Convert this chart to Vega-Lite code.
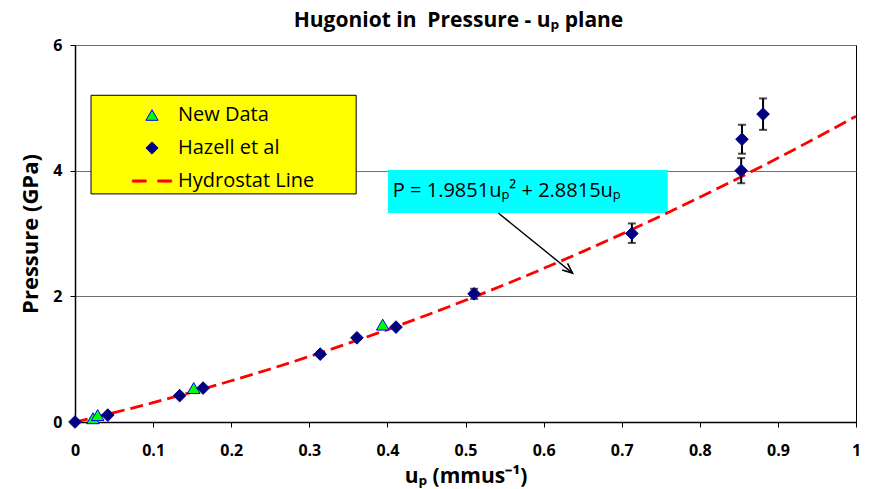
{
  "$schema": "https://vega.github.io/schema/vega-lite/v6.json",
  "width": 781,
  "height": 377,
  "autosize": {"type": "none"},
  "padding": {"left": 75, "top": 45, "right": 19, "bottom": 67},
  "background": "white",
  "title": {"text": "Hugoniot in\u00a0 Pressure - uₚ plane", "fontSize": 21, "font": "Open Sans", "fontWeight": "bold", "color": "#000", "anchor": "middle", "offset": 6, "dx": -7},
  "datasets": {
    "points": [
      {"series": "New Data", "u": 0.023, "p": 0.06},
      {"series": "New Data", "u": 0.029, "p": 0.11},
      {"series": "New Data", "u": 0.152, "p": 0.54},
      {"series": "New Data", "u": 0.394, "p": 1.55},
      {"series": "Hazell et al", "u": 0.0, "p": 0.0},
      {"series": "Hazell et al", "u": 0.042, "p": 0.11},
      {"series": "Hazell et al", "u": 0.134, "p": 0.42},
      {"series": "Hazell et al", "u": 0.164, "p": 0.54},
      {"series": "Hazell et al", "u": 0.314, "p": 1.08},
      {"series": "Hazell et al", "u": 0.361, "p": 1.34},
      {"series": "Hazell et al", "u": 0.411, "p": 1.51},
      {"series": "Hazell et al", "u": 0.511, "p": 2.04},
      {"series": "Hazell et al", "u": 0.713, "p": 3.0},
      {"series": "Hazell et al", "u": 0.853, "p": 4.0},
      {"series": "Hazell et al", "u": 0.854, "p": 4.5},
      {"series": "Hazell et al", "u": 0.881, "p": 4.9}
    ],
    "err": [
      {"u": 0.511, "lo": 1.96, "hi": 2.12},
      {"u": 0.713, "lo": 2.85, "hi": 3.16},
      {"u": 0.853, "lo": 3.8, "hi": 4.2},
      {"u": 0.854, "lo": 4.27, "hi": 4.73},
      {"u": 0.881, "lo": 4.65, "hi": 5.15}
    ],
    "hydro": [
      {"u": 0.0, "p": 0.0},
      {"u": 0.05, "p": 0.149},
      {"u": 0.1, "p": 0.308},
      {"u": 0.15, "p": 0.477},
      {"u": 0.2, "p": 0.656},
      {"u": 0.25, "p": 0.844},
      {"u": 0.3, "p": 1.043},
      {"u": 0.35, "p": 1.252},
      {"u": 0.4, "p": 1.470},
      {"u": 0.45, "p": 1.699},
      {"u": 0.5, "p": 1.937},
      {"u": 0.55, "p": 2.185},
      {"u": 0.6, "p": 2.444},
      {"u": 0.65, "p": 2.712},
      {"u": 0.7, "p": 2.990},
      {"u": 0.75, "p": 3.278},
      {"u": 0.8, "p": 3.576},
      {"u": 0.85, "p": 3.884},
      {"u": 0.9, "p": 4.201},
      {"u": 0.95, "p": 4.529},
      {"u": 1.0, "p": 4.867}
    ],
    "one": [{"label": "P = 1.9851uₚ² + 2.8815uₚ"}]
  },
  "layer": [
    {
      "data": {"name": "one"},
      "mark": {"type": "rect", "fill": "#ffff00", "stroke": "#000", "strokeWidth": 1},
      "encoding": {
        "x": {"datum": 0.0205, "type": "quantitative", "scale": {"domain": [0, 1], "nice": false, "zero": false},
          "axis": {"values": [0, 0.1, 0.2, 0.3, 0.4, 0.5, 0.6, 0.7, 0.8, 0.9, 1], "format": "~g", "title": "uₚ (mmus⁻¹)", "titleFontSize": 21, "labelPadding": 15, "titlePadding": 7, "labelFlush": false}},
        "x2": {"datum": 0.36},
        "y": {"datum": 5.2, "type": "quantitative", "scale": {"domain": [0, 6], "nice": false, "zero": false},
          "axis": {"values": [0, 2, 4, 6], "format": "d", "title": "Pressure (GPa)", "titleFontSize": 22, "grid": true, "gridColor": "#707070", "gridWidth": 1.2, "labelPadding": 8, "titlePadding": 10, "labelFlush": false}},
        "y2": {"datum": 3.63}
      }
    },
    {
      "data": {"name": "one"},
      "mark": {"type": "rect", "fill": "#00ffff"},
      "encoding": {
        "x": {"datum": 0.4008, "type": "quantitative"},
        "x2": {"datum": 0.759},
        "y": {"datum": 4.011, "type": "quantitative"},
        "y2": {"datum": 3.326}
      }
    },
    {
      "data": {"name": "hydro"},
      "mark": {"type": "line", "color": "#ff0000", "strokeWidth": 2.8, "strokeDash": [13, 6], "interpolate": "monotone"},
      "encoding": {
        "x": {"field": "u", "type": "quantitative"},
        "y": {"field": "p", "type": "quantitative"}
      }
    },
    {
      "data": {"name": "one"},
      "mark": {"type": "rule", "color": "#000", "strokeWidth": 1.4},
      "encoding": {
        "x": {"datum": 0.542, "type": "quantitative"},
        "y": {"datum": 3.326, "type": "quantitative"},
        "x2": {"datum": 0.637},
        "y2": {"datum": 2.37}
      }
    },
    {
      "data": {"name": "one"},
      "mark": {"type": "point", "shape": "M-0.8,-1.9L0,0L0.8,-1.9", "filled": false, "stroke": "#000", "strokeWidth": 1.6, "size": 110, "angle": -50, "opacity": 1},
      "encoding": {
        "x": {"datum": 0.637, "type": "quantitative"},
        "y": {"datum": 2.37, "type": "quantitative"}
      }
    },
    {
      "data": {"name": "one"},
      "mark": {"type": "text", "align": "left", "baseline": "middle", "font": "Open Sans", "fontSize": 20, "color": "#000"},
      "encoding": {
        "x": {"datum": 0.407, "type": "quantitative"},
        "y": {"datum": 3.68, "type": "quantitative"},
        "text": {"field": "label"}
      }
    },
    {
      "data": {"name": "err"},
      "mark": {"type": "rule", "color": "#000", "strokeWidth": 2},
      "encoding": {
        "x": {"field": "u", "type": "quantitative"},
        "y": {"field": "lo", "type": "quantitative"},
        "y2": {"field": "hi"}
      }
    },
    {
      "data": {"name": "err"},
      "mark": {"type": "tick", "orient": "horizontal", "color": "#000", "size": 8, "thickness": 2},
      "encoding": {
        "x": {"field": "u", "type": "quantitative"},
        "y": {"field": "lo", "type": "quantitative"}
      }
    },
    {
      "data": {"name": "err"},
      "mark": {"type": "tick", "orient": "horizontal", "color": "#000", "size": 8, "thickness": 2},
      "encoding": {
        "x": {"field": "u", "type": "quantitative"},
        "y": {"field": "hi", "type": "quantitative"}
      }
    },
    {
      "data": {"name": "points"},
      "mark": {"type": "point", "filled": true, "size": 160, "strokeWidth": 1, "opacity": 1},
      "encoding": {
        "x": {"field": "u", "type": "quantitative"},
        "y": {"field": "p", "type": "quantitative"},
        "shape": {"field": "series", "type": "nominal",
          "scale": {"domain": ["New Data", "Hazell et al", "Hydrostat Line"], "range": ["triangle-up", "diamond", "M-3.2,-0.17H-0.95V0.17H-3.2ZM0.95,-0.17H3.2V0.17H0.95Z"]},
          "legend": {"title": null}},
        "fill": {"field": "series", "type": "nominal",
          "scale": {"domain": ["New Data", "Hazell et al", "Hydrostat Line"], "range": ["#00ff00", "#000080", "#ff0000"]},
          "legend": {"title": null}},
        "stroke": {"field": "series", "type": "nominal",
          "scale": {"domain": ["New Data", "Hazell et al", "Hydrostat Line"], "range": ["#0000ff", "#000080", "#ff0000"]},
          "legend": {"title": null}}
      }
    }
  ],
  "config": {
    "view": {"stroke": "#000", "strokeWidth": 1},
    "font": "Open Sans",
    "axis": {
      "labelFont": "Open Sans", "labelFontWeight": "bold", "labelFontSize": 16, "labelColor": "#000",
      "titleFont": "Open Sans", "titleFontWeight": "bold", "titleFontSize": 20, "titleColor": "#000",
      "domainColor": "#000", "domainWidth": 1.5, "tickColor": "#000", "tickSize": 5, "grid": false
    },
    "legend": {
      "orient": "none", "legendX": 67, "legendY": 60, "padding": 0,
      "labelFont": "Open Sans", "labelFontSize": 20, "labelColor": "#000",
      "rowPadding": 13, "symbolSize": 150, "labelOffset": 16, "symbolStrokeWidth": 1
    }
  }
}
